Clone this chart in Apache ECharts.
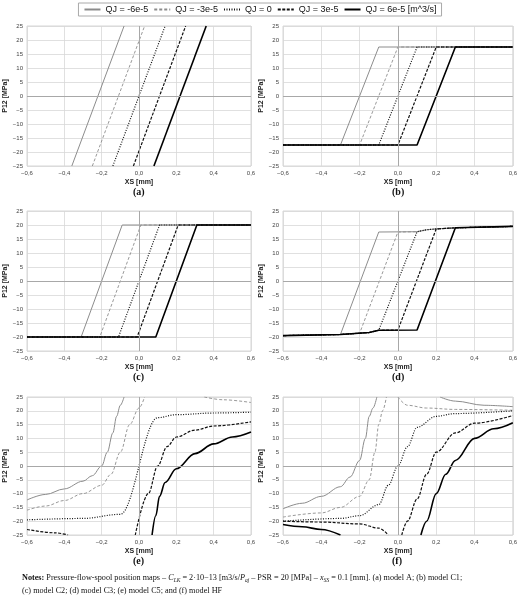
<!DOCTYPE html>
<html>
<head>
<meta charset="utf-8">
<script src="https://cdn.jsdelivr.net/npm/echarts@6/dist/echarts.min.js"></script>
<style>html,body{margin:0;padding:0;background:#fff}#main{width:520px;height:601px}</style>
</head>
<body>
<div id="main"></div>
<script>
var names = ['QJ = -6e-5', 'QJ = -3e-5', 'QJ = 0', 'QJ = 3e-5', 'QJ = 6e-5 [m^3/s]'];
var panelLabels = ['(a)', '(b)', '(c)', '(d)', '(e)', '(f)'];
var xTicks = [-0.6, -0.4, -0.2, 0, 0.2, 0.4, 0.6];

// one array of [XS, P12] per curve, per panel; null breaks a curve
var panelA = [
  [[-0.36, -25], [-0.08, 25]],
  [[-0.25, -25], [0.03, 25]],
  [[-0.14, -25], [0.14, 25]],
  [[-0.03, -25], [0.25, 25]],
  [[0.08, -25], [0.36, 25]]
];
var panelB = [
  [[-0.6, -17.5], [-0.3, -17.5], [-0.1, 17.5], [0.6, 17.5]],
  [[-0.6, -17.5], [-0.2, -17.5], [0, 17.5], [0.6, 17.5]],
  [[-0.6, -17.5], [-0.1, -17.5], [0.1, 17.5], [0.6, 17.5]],
  [[-0.6, -17.5], [0, -17.5], [0.2, 17.5], [0.6, 17.5]],
  [[-0.6, -17.5], [0.1, -17.5], [0.3, 17.5], [0.6, 17.5]]
];
var panelC = [
  [[-0.6, -20], [-0.31, -20], [-0.09, 20], [0.6, 20]],
  [[-0.6, -20], [-0.21, -20], [0.01, 20], [0.6, 20]],
  [[-0.6, -20], [-0.11, -20], [0.11, 20], [0.6, 20]],
  [[-0.6, -20], [-0.01, -20], [0.21, 20], [0.6, 20]],
  [[-0.6, -20], [0.09, -20], [0.31, 20], [0.6, 20]]
];
var panelD = [
  [[-0.6, -19.5], [-0.3, -19.1], [-0.1, 17.5], [0.1, 17.6], [0.15, 18.3], [0.2, 18.6], [0.3, 19], [0.6, 19.5]],
  [[-0.6, -19.5], [-0.3, -19.1], [-0.2, -18.7], [0, 17.5], [0.1, 17.6], [0.15, 18.3], [0.2, 18.6], [0.3, 19], [0.6, 19.5]],
  [[-0.6, -19.5], [-0.3, -19.1], [-0.15, -18.4], [-0.1, -17.6], [0.1, 17.6], [0.15, 18.3], [0.2, 18.6], [0.3, 19], [0.6, 19.5]],
  [[-0.6, -19.5], [-0.3, -19.1], [-0.15, -18.4], [-0.1, -17.6], [0, -17.5], [0.2, 18.6], [0.3, 19], [0.6, 19.5]],
  [[-0.6, -19.5], [-0.3, -19.1], [-0.15, -18.4], [-0.1, -17.6], [0.1, -17.5], [0.3, 19], [0.6, 19.5]]
];
var panelE = [
  [[-0.6, -12.3], [-0.5, -10.3], [-0.4, -8.3], [-0.3, -5.5], [-0.25, -3.5], [-0.2, 0], [-0.17, 5], [-0.14, 12], [-0.12, 18], [-0.1, 22], [-0.08, 25]],
  [[-0.6, -16], [-0.5, -14.5], [-0.4, -12.5], [-0.3, -10], [-0.2, -7], [-0.15, -3], [-0.1, 5], [-0.05, 15], [0, 21], [0.03, 25], null, [0.35, 25], [0.45, 24], [0.6, 23]],
  [[-0.6, -19.5], [-0.3, -19], [-0.1, -17.5], [0.1, 17.5], [0.2, 18.6], [0.4, 19.2], [0.6, 19.5]],
  [[-0.6, -23], [-0.45, -24.2], [-0.38, -25], null, [-0.02, -25], [0.05, -10], [0.1, 0], [0.15, 7], [0.2, 10.5], [0.3, 13], [0.4, 14.5], [0.6, 16]],
  [[0.07, -25], [0.09, -18], [0.11, -11], [0.14, -6], [0.2, -1], [0.3, 4.5], [0.4, 8], [0.5, 10.5], [0.6, 12.3]]
];
var panelF = [
  [[-0.6, -15.5], [-0.5, -13.5], [-0.4, -11], [-0.3, -7.5], [-0.25, -4], [-0.2, 2], [-0.17, 10], [-0.15, 18], [-0.13, 21], [-0.11, 25], null, [0.22, 25], [0.3, 23.5], [0.45, 22], [0.6, 21.5]],
  [[-0.6, -18.5], [-0.4, -17], [-0.3, -15], [-0.2, -11], [-0.15, -5], [-0.12, 5], [-0.1, 15], [-0.08, 20], [-0.06, 25], null, [0, 25], [0.05, 22], [0.15, 21], [0.3, 20.5], [0.6, 20.2]],
  [[-0.6, -20], [-0.3, -19], [-0.2, -18], [-0.1, -14], [-0.05, -7], [0, 0], [0.05, 7], [0.1, 14], [0.2, 18], [0.3, 19], [0.6, 20]],
  [[-0.6, -20], [-0.4, -20.3], [-0.2, -21], [-0.1, -22.5], [-0.05, -25], null, [0.02, -25], [0.05, -20], [0.1, -12], [0.15, -3], [0.2, 5], [0.3, 12], [0.4, 15.5], [0.6, 18.3]],
  [[-0.6, -21.2], [-0.5, -22], [-0.4, -23], [-0.3, -25], null, [0.12, -25], [0.15, -20], [0.2, -10], [0.25, -3], [0.3, 2], [0.4, 10], [0.5, 13.5], [0.6, 15.7]]
];
var panels = [panelA, panelB, panelC, panelD, panelE, panelF];

var styles = [
  {color: '#8c8c8c', width: 1, type: 'solid'},
  {color: '#8c8c8c', width: 0.9, type: [3, 2]},
  {color: '#111', width: 1.2, type: [1, 1.5]},
  {color: '#111', width: 1.2, type: [3, 1.5]},
  {color: '#000', width: 1.6, type: 'solid'}
];

var gridBoxes = [
  {left: 27, top: 26, width: 224, height: 140},
  {left: 283, top: 26, width: 230, height: 140},
  {left: 27, top: 211, width: 224, height: 140},
  {left: 283, top: 211, width: 230, height: 140},
  {left: 27, top: 397, width: 224, height: 138},
  {left: 283, top: 397, width: 230, height: 138}
];

function fmt(v) {
  var s = Math.abs(v) < 1e-9 ? '0,0' : Math.abs(v).toFixed(1).replace('.', ',');
  return (v < -1e-9 ? '\u2212' : '') + s;
}

var grids = [], xAxes = [], yAxes = [], series = [], graphics = [];
gridBoxes.forEach(function (g, i) {
  grids.push({left: g.left, top: g.top, width: g.width, height: g.height, show: true, borderColor: '#ccc', borderWidth: 0.8});
  xAxes.push({
    gridIndex: i, type: 'value', min: -0.6, max: 0.6, interval: 0.2,
    name: 'XS [mm]', nameLocation: 'middle', nameGap: 13,
    nameTextStyle: {fontSize: 7, fontWeight: 'bold', color: '#222', fontFamily: 'Liberation Sans'},
    axisLine: {show: false}, axisTick: {show: false},
    axisLabel: {fontSize: 6, color: '#444', margin: 4, formatter: fmt},
    splitLine: {lineStyle: {color: '#d8d8d8', width: 0.8}}
  });
  yAxes.push({
    gridIndex: i, type: 'value', min: -25, max: 25, interval: 5,
    name: 'P12 [MPa]', nameLocation: 'middle', nameGap: 18,
    nameTextStyle: {fontSize: 7, fontWeight: 'bold', color: '#222', fontFamily: 'Liberation Sans'},
    axisLine: {show: false}, axisTick: {show: false},
    axisLabel: {fontSize: 6, color: '#444', margin: 4, formatter: function (v) { return v < 0 ? '\u2212' + (-v) : '' + v; }},
    splitLine: {lineStyle: {color: '#d8d8d8', width: 0.8}}
  });
  panels[i].forEach(function (curve, k) {
    series.push({
      name: names[k], type: 'line', xAxisIndex: i, yAxisIndex: i,
      data: curve, symbol: 'none', smooth: i >= 4 ? 0.35 : false, smoothMonotone: 'x',
      connectNulls: false,
      lineStyle: styles[k], itemStyle: {color: styles[k].color}, silent: true,
      clip: true,
      markLine: k === 0 ? {
        silent: true, symbol: 'none', label: {show: false},
        lineStyle: {color: '#a8a8a8', width: 1, type: 'solid'},
        data: [{xAxis: 0}, {yAxis: 0}]
      } : undefined
    });
  });
  graphics.push({
    type: 'text', left: g.left + g.width / 2 - 6, top: g.top + g.height + 21,
    style: {text: panelLabels[i], font: 'bold 10px "Liberation Serif"', fill: '#111'}
  });
});

graphics.push({
  type: 'text', left: 22, top: 571,
  style: {
    text: '{b|Notes:} Pressure-flow-spool position maps \u2013 {i|C}{s|LK} = 2\u00b710\u221213 [m3/s/{i|P}{s|aj} \u2013 PSR = 20 [MPa] \u2013 {i|x}{s|SS} = 0.1 [mm]. (a) model A; (b) model C1;\n(c) model C2; (d) model C3; (e) model C5; and (f) model HF',
    font: '8.2px "Liberation Serif"', fill: '#111', lineHeight: 13,
    rich: {
      b: {fontWeight: 'bold', fontSize: 8.2, fontFamily: 'Liberation Serif'},
      i: {fontStyle: 'italic', fontSize: 8.2, fontFamily: 'Liberation Serif'},
      s: {fontStyle: 'italic', fontSize: 5.5, fontFamily: 'Liberation Serif', verticalAlign: 'bottom'}
    }
  }
});

var chart = echarts.init(document.getElementById('main'));
chart.setOption({
  animation: false,
  legend: {
    data: names, top: 3, left: 'center', itemWidth: 16, itemHeight: 6, itemGap: 5,
    borderColor: '#aaa', borderWidth: 1, padding: [2, 5],
    itemStyle: {opacity: 0},
    textStyle: {fontSize: 9, color: '#111', fontFamily: 'Liberation Sans'},
    selectedMode: false
  },
  grid: grids, xAxis: xAxes, yAxis: yAxes, series: series, graphic: graphics
});
</script>
</body>
</html>
